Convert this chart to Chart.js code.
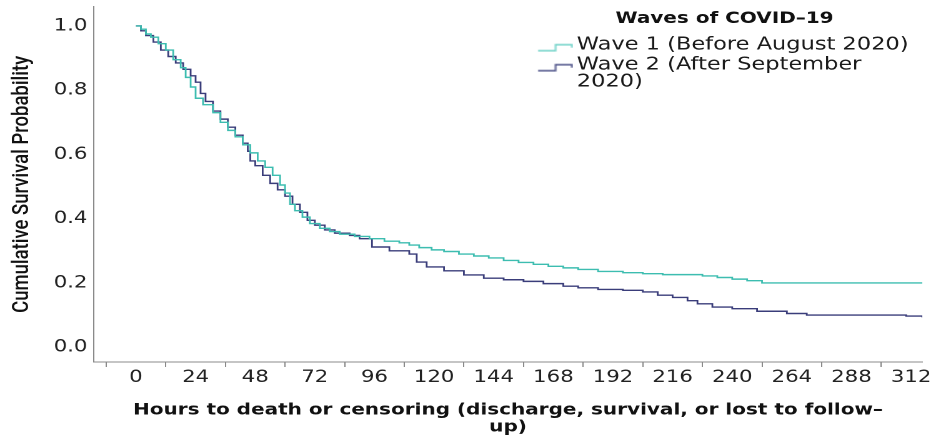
<!DOCTYPE html>
<html>
<head>
<meta charset="utf-8">
<script src="https://cdn.jsdelivr.net/npm/chart.js@4/dist/chart.umd.min.js"></script>
<style>
    html, body { margin: 0; padding: 0; background: #fff; }
    #moldura { width: 936px; height: 436px; overflow: hidden; }
    #grafico { transform: scaleX(1.2497); transform-origin: 0 0; }
</style>
</head>
<body>
<div id="moldura"><canvas id="grafico" width="749" height="436"></canvas></div>
<script>
// hours -> cumulative survival
var wave1Hours = [0, 2, 4, 6, 9, 12, 15, 18, 20, 22, 24, 27, 31, 34, 37, 40, 43, 46, 49, 52, 55, 58, 60, 62, 64, 67, 70, 74, 78, 82, 88, 94, 100, 106, 110, 114, 119, 124, 130, 136, 142, 148, 154, 160, 166, 172, 178, 186, 196, 204, 212, 228, 234, 240, 246, 252, 316.5];
var wave1Surv = [1.0, 0.99, 0.975, 0.965, 0.945, 0.925, 0.895, 0.87, 0.84, 0.81, 0.775, 0.755, 0.73, 0.70, 0.675, 0.655, 0.63, 0.605, 0.58, 0.56, 0.535, 0.505, 0.48, 0.445, 0.425, 0.405, 0.385, 0.37, 0.36, 0.352, 0.345, 0.338, 0.33, 0.325, 0.318, 0.31, 0.303, 0.298, 0.29, 0.284, 0.278, 0.27, 0.264, 0.258, 0.252, 0.247, 0.242, 0.236, 0.232, 0.229, 0.226, 0.222, 0.217, 0.212, 0.207, 0.2, 0.2];

var wave2Hours = [0, 2, 4, 7, 10, 13, 16, 19, 22, 24, 26, 28, 31, 34, 37, 40, 43, 45, 46, 48, 51, 54, 57, 60, 63, 66, 69, 72, 76, 80, 86, 90, 95, 102, 110, 113, 117, 124, 132, 140, 148, 156, 164, 172, 178, 186, 196, 204, 210, 216, 222, 226, 232, 240, 250, 262, 270, 310, 316.5];
var wave2Surv = [1.0, 0.985, 0.97, 0.95, 0.925, 0.905, 0.885, 0.865, 0.845, 0.825, 0.79, 0.765, 0.735, 0.71, 0.685, 0.66, 0.635, 0.61, 0.58, 0.565, 0.535, 0.51, 0.49, 0.47, 0.445, 0.42, 0.395, 0.38, 0.365, 0.355, 0.348, 0.338, 0.312, 0.30, 0.29, 0.265, 0.25, 0.238, 0.225, 0.215, 0.21, 0.205, 0.198, 0.19, 0.185, 0.18, 0.177, 0.172, 0.162, 0.155, 0.145, 0.135, 0.125, 0.12, 0.112, 0.105, 0.1, 0.097, 0.093];

var xTicks = [0, 24, 48, 72, 96, 120, 144, 168, 192, 216, 240, 264, 288, 312];
var yTicks = [0, 0.2, 0.4, 0.6, 0.8, 1.0];
var legendTitle = "Waves of COVID\u201319";
var wave1Label = "Wave 1 (Before August 2020)";
var wave2Label = ["Wave 2 (After September", "2020)"];
var xTitle = ["Hours to death or censoring (discharge, survival, or lost to follow\u2013", "up)"];
var yTitle = "Cumulative Survival Probability";

var corWave1 = '#3dbdb0';
var corWave2 = '#3a3d7a';

// little step symbol for the legend
const simboloDegrau = function (cor) {
    const c = document.createElement('canvas');
    c.width = 40;
    c.height = 20;
    const ctx = c.getContext('2d');
    ctx.strokeStyle = cor;
    ctx.lineWidth = 1.3;
    ctx.beginPath();
    ctx.moveTo(12, 16);
    ctx.lineTo(26, 16);
    ctx.lineTo(26, 10);
    ctx.lineTo(39, 10);
    ctx.lineTo(39, 13);
    ctx.stroke();
    return c;
}

const montarPontos = function (horas, valores) {
    return horas.map((h, i) => ({ x: h, y: valores[i] }));
}

const posicionarLegenda = {
    id: 'posicionarLegenda',
    afterLayout: function (chart) {
        const lg = chart.legend;
        const area = chart.chartArea;
        lg.right = area.right - 1;
        lg.left = lg.right - lg.width;
        lg.top = area.top;
        lg.bottom = lg.top + lg.height;
    }
};

const ctx = document.getElementById('grafico').getContext('2d');
var grafico = new Chart(ctx, {
    type: 'line',
    data: {
        datasets: [{
            label: wave1Label,
            data: montarPontos(wave1Hours, wave1Surv),
            borderColor: corWave1,
            borderWidth: 1.4,
            stepped: true,
            pointRadius: 0,
            pointStyle: simboloDegrau('#6fd2c8'),
            fill: false
        }, {
            label: wave2Label,
            data: montarPontos(wave2Hours, wave2Surv),
            borderColor: corWave2,
            borderWidth: 1.4,
            stepped: true,
            pointRadius: 0,
            pointStyle: simboloDegrau('#4a4f86'),
            fill: false
        }]
    },
    options: {
        responsive: false,
        animation: false,
        devicePixelRatio: 2,
        layout: { padding: { top: 3, right: 11, bottom: 0, left: 0 } },
        plugins: {
            tooltip: { enabled: false },
            legend: {
                position: 'chartArea',
                align: 'start',
                title: {
                    display: true,
                    text: legendTitle,
                    color: '#111',
                    position: 'center',
                    font: { family: 'DejaVu Sans', size: 16, weight: 'bold', lineHeight: 1.06 },
                    padding: { top: 4, bottom: 6 }
                },
                labels: {
                    usePointStyle: true,
                    pointStyleWidth: 28,
                    padding: 2,
                    color: '#1a1a1a',
                    font: { family: 'DejaVu Sans', size: 18, lineHeight: 0.94 }
                }
            }
        },
        scales: {
            x: {
                type: 'linear',
                min: -17,
                max: 316.5,
                afterBuildTicks: function (s) { s.ticks = xTicks.map(v => ({ value: v })); },
                afterFit: function (s) { s.height = 74; },
                border: { display: true, color: '#8a8a8a', width: 1 },
                grid: { offset: true, drawOnChartArea: false, drawTicks: true, tickLength: 5, color: '#8a8a8a' },
                ticks: {
                    color: '#222',
                    padding: 2,
                    maxRotation: 0,
                    autoSkip: false,
                    font: { family: 'DejaVu Sans', size: 17, lineHeight: 1 }
                },
                title: {
                    display: true,
                    text: xTitle,
                    color: '#111',
                    font: { family: 'DejaVu Sans', size: 16, weight: 'bold', lineHeight: 1.06 },
                    padding: { top: 0, bottom: 0 }
                }
            },
            y: {
                min: -0.046,
                max: 1.06,
                afterBuildTicks: function (s) { s.ticks = yTicks.map(v => ({ value: v })); },
                afterFit: function (s) { s.width = 75; },
                border: { display: true, color: '#8a8a8a', width: 1 },
                grid: { drawOnChartArea: false, drawTicks: false },
                ticks: {
                    color: '#222',
                    padding: 5,
                    font: { family: 'DejaVu Sans', size: 17, lineHeight: 0.2 },
                    callback: function (v) { return v.toFixed(1); }
                },
                title: {
                    display: true,
                    text: yTitle,
                    color: '#111',
                    font: { family: 'Roboto', size: 18.5, weight: 500 },
                    padding: { top: 7, bottom: 0 }
                }
            }
        }
    },
    plugins: [posicionarLegenda]
});
</script>
</body>
</html>
